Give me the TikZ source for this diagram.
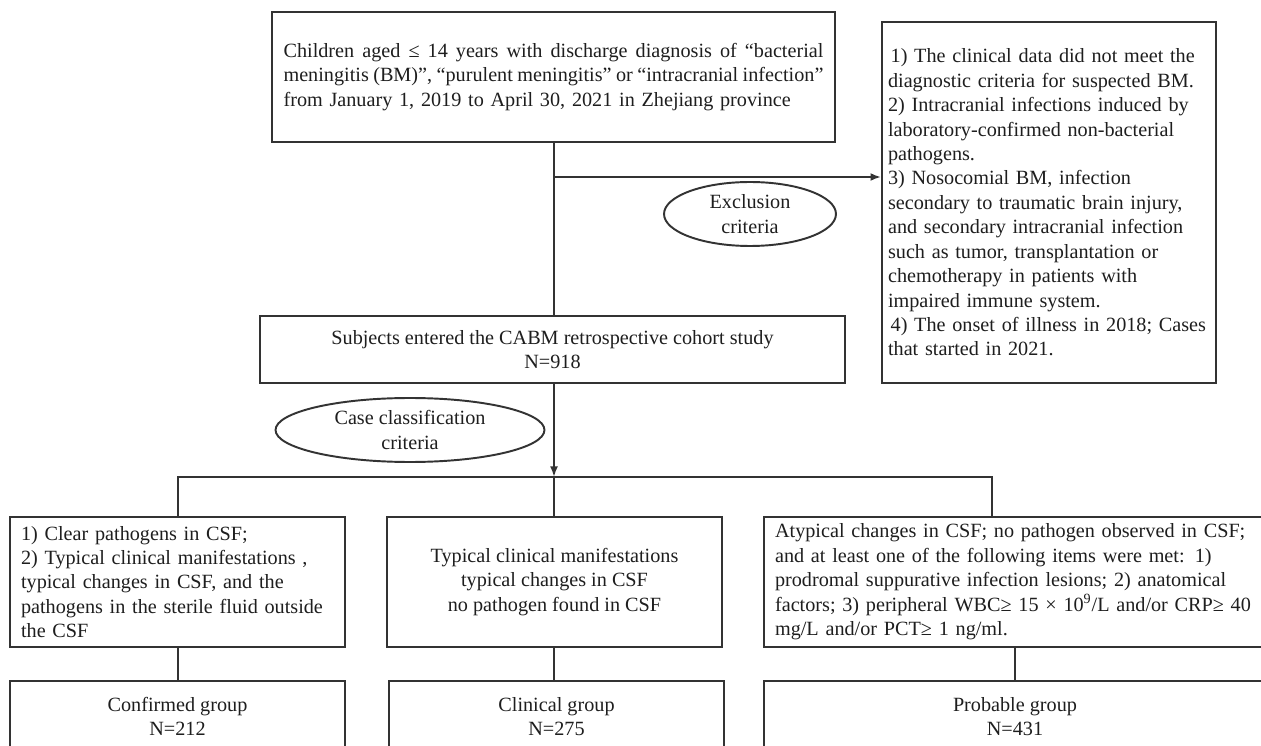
\documentclass[tikz,border=0pt]{standalone}
\usepackage{fontspec}
\setmainfont{Liberation Serif}
\usetikzlibrary{arrows.meta,shapes.geometric}
\definecolor{linec}{HTML}{333333}
\definecolor{txtc}{HTML}{1E1E1E}
\tikzset{
  box/.style={draw=linec, line width=1.1pt, inner sep=0pt, text=txtc,
    font=\fontsize{11.5}{13.9}\selectfont},
  oval/.style={ellipse, draw=linec, line width=1.1pt, inner sep=0pt, text=txtc,
    align=center, font=\fontsize{11.5}{13.9}\selectfont},
  link/.style={draw=linec, line width=1.1pt},
  tip/.style={link, -{Latex[length=6pt,width=4.5pt]}}
}
\newcommand{\fullline}[1]{{\spaceskip=0pt\xspaceskip=0pt\makebox[10.8cm][s]{#1}}}
\begin{document}
\begin{tikzpicture}[x=0.02cm, y=-0.02cm]
  \useasboundingbox (0,0) rectangle (1261,746);
  \clip (0,0) rectangle (1261,746);
  \fill[white] (0,0) rectangle (1261,746);

  \node[box, minimum width=11.26cm, minimum height=2.6cm, text width=10.8cm] (inc) at (553.5,77)
    {\fullline{Children aged ≤ 14 years with discharge diagnosis of “bacterial}\\
     \fullline{meningitis (BM)”, “purulent meningitis” or “intracranial infection”}\\
     from January 1, 2019 to April 30, 2021 in Zhejiang province};
  \node[box, minimum width=6.68cm, minimum height=7.22cm, text width=6.44cm, align=left] (excl) at (1049,202.5)
    {\hspace{1.5pt}1) The clinical data did not meet the\\
     diagnostic criteria for suspected BM.\\
     2) Intracranial infections induced by\\
     laboratory-confirmed non-bacterial\\
     pathogens.\\
     3) Nosocomial BM, infection\\
     secondary to traumatic brain injury,\\
     and secondary intracranial infection\\
     such as tumor, transplantation or\\
     chemotherapy in patients with\\
     impaired immune system.\\
     \hspace{1.5pt}4) The onset of illness in 2018; Cases\\
     that started in 2021.};
  \node[oval, minimum width=3.44cm, minimum height=1.28cm] (exc) at (750,214) {Exclusion\\criteria};
  \node[box, minimum width=11.7cm, minimum height=1.34cm, align=center] (subj) at (552.5,349.5)
    {Subjects entered the CABM retrospective cohort study\\N=918};
  \node[oval, minimum width=5.38cm, minimum height=1.28cm] (cls) at (410,430) {Case classification\\criteria};

  \node[box, minimum width=6.7cm, minimum height=2.6cm, text width=6.26cm, align=left] (c1) at (177.5,582)
    {1) Clear pathogens in CSF;\\
     2) Typical clinical manifestations ,\\
     typical changes in CSF, and the\\
     pathogens in the sterile fluid outside\\
     the CSF};
  \node[box, minimum width=6.7cm, minimum height=2.6cm, align=center] (c2) at (554.5,582)
    {Typical clinical manifestations\\
     typical changes in CSF\\
     no pathogen found in CSF};
  \node[box, minimum width=10.04cm, minimum height=2.6cm, text width=9.6cm, align=left] (c3) at (1015,582)
    {Atypical changes in CSF; no pathogen observed in CSF;\\
     and at least one of the following items were met: 1)\\
     prodromal suppurative infection lesions; 2) anatomical\\
     factors; 3) peripheral WBC≥ 15 × 10\textsuperscript{9}/L and/or CRP≥ 40\\
     mg/L and/or PCT≥ 1 ng/ml.};

  \node[box, minimum width=6.7cm, minimum height=1.42cm, align=center] (g1) at (177.5,716.5)
    {Confirmed group\\N=212};
  \node[box, minimum width=6.7cm, minimum height=1.42cm, align=center] (g2) at (556.5,716.5)
    {Clinical group\\N=275};
  \node[box, minimum width=10.04cm, minimum height=1.42cm, align=center] (g3) at (1015,716.5)
    {Probable group\\N=431};

  \coordinate (spine) at (554,0);
  \coordinate (exj) at (554,177);
  \coordinate (split) at (554,477);
  \coordinate (lft) at (178,477);
  \coordinate (rgt) at (992,477);

  \draw[link] (inc.south -| spine) -- (subj.north -| spine);
  \draw[tip] (exj) -- (exj -| excl.west);
  \draw[tip] (subj.south -| spine) -- (split);
  \draw[link] (c1.north -| lft) |- (rgt) -- (c3.north -| rgt);
  \draw[link] (split) -- (c2.north -| split);
  \draw[link] (c1.south -| lft) -- (g1.north -| lft);
  \draw[link] (c2.south -| spine) -- (g2.north -| spine);
  \draw[link] (c3.south) -- (g3.north);
\end{tikzpicture}
\end{document}
